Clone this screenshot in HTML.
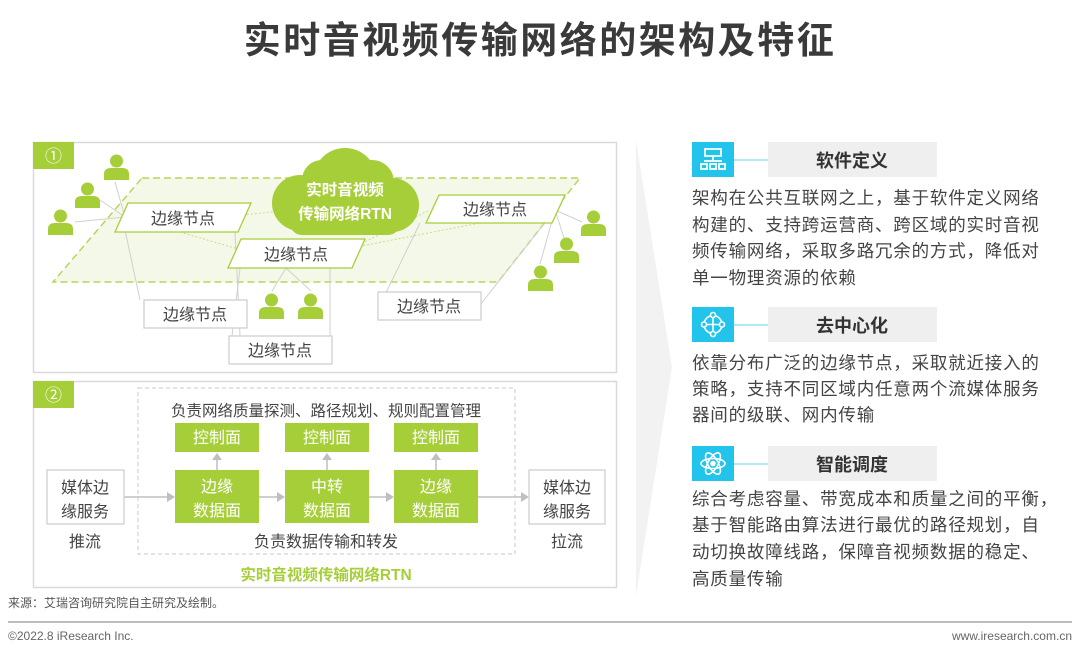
<!DOCTYPE html>
<html><head><meta charset="utf-8"><style>
html,body{margin:0;padding:0;background:#fff;}
svg text{font-family:"Liberation Sans","Noto Sans CJK SC",sans-serif;}
</style></head><body>
<svg width="1080" height="656" viewBox="0 0 1080 656" xmlns="http://www.w3.org/2000/svg">
<defs>
<g id="u"><circle cx="12.5" cy="7" r="6.5" fill="#a6ce39"/><path d="M0 26 V20 Q0 14 7 14 H18 Q25 14 25 20 V26 Z" fill="#a6ce39"/></g>
</defs>
<text x="540" y="53" text-anchor="middle" font-size="37" font-weight="bold" fill="#3a3a3a" letter-spacing="2.5">实时音视频传输网络的架构及特征</text>

<!-- chevron -->
<polygon points="636,140 672,367 636,596" fill="#f2f2f2"/>

<!-- panel 1 -->
<rect x="33.5" y="142.5" width="583" height="230" fill="#fff" stroke="#d9d9d9" stroke-width="1.5"/>
<rect x="33" y="142" width="41" height="27" fill="#a6ce39"/>
<text x="53.5" y="162" text-anchor="middle" font-size="17" fill="#fff">①</text>
<polygon points="142,178 580,178 498,282 53,282" fill="#f4f8e8" stroke="#b5d65a" stroke-width="1.5" stroke-dasharray="7,4"/>
<g stroke="#d0d0d0" stroke-width="1" fill="none">
<line x1="115" y1="182" x2="125" y2="217"/><line x1="100" y1="200" x2="125" y2="217"/><line x1="75" y1="222" x2="125" y2="217"/>
<line x1="125" y1="230" x2="140" y2="300"/><line x1="235" y1="232" x2="240" y2="336"/><line x1="240" y1="268" x2="232" y2="336"/>
<line x1="286" y1="268" x2="272" y2="291"/><line x1="286" y1="268" x2="311" y2="291"/>
<line x1="555" y1="210" x2="582" y2="222"/><line x1="555" y1="210" x2="567" y2="247"/><line x1="555" y1="210" x2="540" y2="264"/>
<line x1="555" y1="210" x2="480" y2="305"/><line x1="420" y1="223" x2="380" y2="305"/><line x1="330" y1="268" x2="330" y2="350"/>
</g>
<g stroke="#c6de86" stroke-width="1" stroke-dasharray="2,2" fill="none">
<line x1="215" y1="218" x2="290" y2="210"/><line x1="180" y1="232" x2="255" y2="254"/><line x1="340" y1="254" x2="430" y2="210"/><line x1="320" y1="254" x2="480" y2="223"/>
</g>
<!-- cloud -->
<g fill="#a6ce39">
<circle cx="345" cy="180" r="32"/><circle cx="300" cy="203" r="28"/><circle cx="392" cy="205" r="27"/><circle cx="322" cy="180" r="20"/><circle cx="372" cy="182" r="22"/>
<rect x="290" y="195" width="110" height="40" rx="12"/>
</g>
<text x="345" y="195" text-anchor="middle" font-size="15.5" font-weight="bold" fill="#fff">实时音视频</text>
<text x="345" y="219" text-anchor="middle" font-size="15.5" font-weight="bold" fill="#fff">传输网络RTN</text>
<!-- parallelogram nodes -->
<g fill="#fff" stroke="#a6ce39" stroke-width="1.3">
<polygon points="128,203 251,203 238,232 115,232"/>
<polygon points="241,239 365,239 352,268 228,268"/>
<polygon points="439,195 565,195 552,223 426,223"/>
</g>
<g font-size="16" fill="#444" text-anchor="middle">
<text x="183" y="224">边缘节点</text><text x="296" y="260">边缘节点</text><text x="495" y="215">边缘节点</text>
</g>
<g fill="#fff" stroke="#cfcfcf" stroke-width="1.3">
<rect x="144" y="300" width="103" height="28"/><rect x="229" y="336" width="103" height="28"/><rect x="378" y="292" width="103" height="28"/>
</g>
<g font-size="16" fill="#444" text-anchor="middle">
<text x="195" y="320">边缘节点</text><text x="280" y="356">边缘节点</text><text x="429" y="312">边缘节点</text>
</g>
<use href="#u" x="104" y="154"/><use href="#u" x="75" y="182"/><use href="#u" x="48" y="209"/>
<use href="#u" x="581" y="210"/><use href="#u" x="554" y="237"/><use href="#u" x="528" y="265"/>
<use href="#u" x="259" y="293"/><use href="#u" x="298" y="293"/>

<!-- panel 2 -->
<rect x="33.5" y="381.5" width="583" height="206" fill="#fff" stroke="#d9d9d9" stroke-width="1.5"/>
<rect x="33" y="381" width="41" height="27" fill="#a6ce39"/>
<text x="53.5" y="401" text-anchor="middle" font-size="17" fill="#fff">②</text>
<rect x="138" y="388" width="377" height="166" fill="none" stroke="#c8c8c8" stroke-width="1" stroke-dasharray="4,3"/>
<text x="326" y="416" text-anchor="middle" font-size="15.5" fill="#444">负责网络质量探测、路径规划、规则配置管理</text>
<g fill="#a6ce39">
<rect x="175" y="423" width="84" height="29"/><rect x="285" y="423" width="84" height="29"/><rect x="394" y="423" width="84" height="29"/>
<rect x="175" y="470" width="84" height="53"/><rect x="285" y="470" width="84" height="53"/><rect x="394" y="470" width="84" height="53"/>
</g>
<g font-size="16" fill="#fff" text-anchor="middle">
<text x="217" y="443">控制面</text><text x="327" y="443">控制面</text><text x="436" y="443">控制面</text>
<text x="217" y="492">边缘</text><text x="217" y="516">数据面</text>
<text x="327" y="492">中转</text><text x="327" y="516">数据面</text>
<text x="436" y="492">边缘</text><text x="436" y="516">数据面</text>
</g>
<g stroke="#bfbfbf" stroke-width="1.5" fill="#bfbfbf">
<line x1="217" y1="470" x2="217" y2="459"/><polygon points="212,460 222,460 217,453" stroke="none"/>
<line x1="327" y1="470" x2="327" y2="459"/><polygon points="322,460 332,460 327,453" stroke="none"/>
<line x1="436" y1="470" x2="436" y2="459"/><polygon points="431,460 441,460 436,453" stroke="none"/>
<line x1="124" y1="497" x2="168" y2="497"/><polygon points="167,492 175,497 167,502" stroke="none"/>
<line x1="259" y1="497" x2="278" y2="497"/><polygon points="277,492 285,497 277,502" stroke="none"/>
<line x1="369" y1="497" x2="387" y2="497"/><polygon points="386,492 394,497 386,502" stroke="none"/>
<line x1="478" y1="497" x2="522" y2="497"/><polygon points="521,492 529,497 521,502" stroke="none"/>
</g>
<g fill="#fff" stroke="#cfcfcf" stroke-width="1.3"><rect x="47" y="470" width="77" height="54"/><rect x="529" y="470" width="76" height="54"/></g>
<g font-size="16" fill="#444" text-anchor="middle">
<text x="85" y="493">媒体边</text><text x="85" y="517">缘服务</text>
<text x="567" y="493">媒体边</text><text x="567" y="517">缘服务</text>
<text x="85" y="547">推流</text><text x="567" y="547">拉流</text>
<text x="326" y="547">负责数据传输和转发</text>
</g>
<text x="326" y="580" text-anchor="middle" font-size="15.5" font-weight="bold" fill="#a6ce39">实时音视频传输网络RTN</text>

<text x="8" y="607" font-size="12" fill="#555">来源：艾瑞咨询研究院自主研究及绘制。</text>
<line x1="8" y1="622" x2="1072" y2="622" stroke="#bdbdbd" stroke-width="2"/>
<text x="8" y="640" font-size="12" fill="#666">©2022.8 iResearch Inc.</text>
<text x="1072" y="640" font-size="12" fill="#666" text-anchor="end">www.iresearch.com.cn</text>

<!-- right side -->
<g>
<rect x="692" y="142" width="42" height="35" fill="#22c4ec"/>
<g fill="none" stroke="#fff" stroke-width="1.8"><rect x="705" y="149" width="16" height="7"/><line x1="713" y1="156" x2="713" y2="161"/><line x1="704" y1="161" x2="722" y2="161"/><rect x="701" y="164" width="6" height="5"/><rect x="710" y="164" width="6" height="5"/><rect x="719" y="164" width="6" height="5"/></g>
<line x1="734" y1="160" x2="768" y2="160" stroke="#7fdcf4" stroke-width="1.2"/>
<rect x="768" y="142" width="169" height="35" fill="#efefef"/>
<text x="852" y="167" text-anchor="middle" font-size="18" font-weight="bold" fill="#333">软件定义</text>
<g font-size="17.5" fill="#444" letter-spacing="0.8">
<text x="692" y="204">架构在公共互联网之上，基于软件定义网络</text>
<text x="692" y="231">构建的、支持跨运营商、跨区域的实时音视</text>
<text x="692" y="257">频传输网络，采取多路冗余的方式，降低对</text>
<text x="692" y="284">单一物理资源的依赖</text>
</g>
</g>
<g>
<rect x="692" y="307" width="42" height="35" fill="#22c4ec"/>
<g fill="none" stroke="#fff" stroke-width="1.6"><circle cx="713" cy="324.5" r="9"/><line x1="713" y1="314" x2="713" y2="335"/><line x1="703" y1="324.5" x2="723" y2="324.5"/><circle cx="713" cy="315" r="2.5" fill="#22c4ec"/><circle cx="713" cy="334" r="2.5" fill="#22c4ec"/><circle cx="704" cy="324.5" r="2.5" fill="#22c4ec"/><circle cx="722" cy="324.5" r="2.5" fill="#22c4ec"/></g>
<line x1="734" y1="325" x2="768" y2="325" stroke="#7fdcf4" stroke-width="1.2"/>
<rect x="768" y="307" width="169" height="35" fill="#efefef"/>
<text x="852" y="332" text-anchor="middle" font-size="18" font-weight="bold" fill="#333">去中心化</text>
<g font-size="17.5" fill="#444" letter-spacing="0.8">
<text x="692" y="369">依靠分布广泛的边缘节点，采取就近接入的</text>
<text x="692" y="395">策略，支持不同区域内任意两个流媒体服务</text>
<text x="692" y="421">器间的级联、网内传输</text>
</g>
</g>
<g>
<rect x="692" y="446" width="42" height="35" fill="#22c4ec"/>
<g fill="none" stroke="#fff" stroke-width="1.6"><ellipse cx="713" cy="463.5" rx="12" ry="5"/><ellipse cx="713" cy="463.5" rx="12" ry="5" transform="rotate(60 713 463.5)"/><ellipse cx="713" cy="463.5" rx="12" ry="5" transform="rotate(-60 713 463.5)"/><circle cx="713" cy="463.5" r="2" fill="#fff"/></g>
<line x1="734" y1="464" x2="768" y2="464" stroke="#7fdcf4" stroke-width="1.2"/>
<rect x="768" y="446" width="169" height="35" fill="#efefef"/>
<text x="852" y="471" text-anchor="middle" font-size="18" font-weight="bold" fill="#333">智能调度</text>
<g font-size="17.5" fill="#444" letter-spacing="0.8">
<text x="692" y="505">综合考虑容量、带宽成本和质量之间的平衡，</text>
<text x="692" y="531">基于智能路由算法进行最优的路径规划，自</text>
<text x="692" y="558">动切换故障线路，保障音视频数据的稳定、</text>
<text x="692" y="585">高质量传输</text>
</g>
</g>
</svg>
</body></html>
